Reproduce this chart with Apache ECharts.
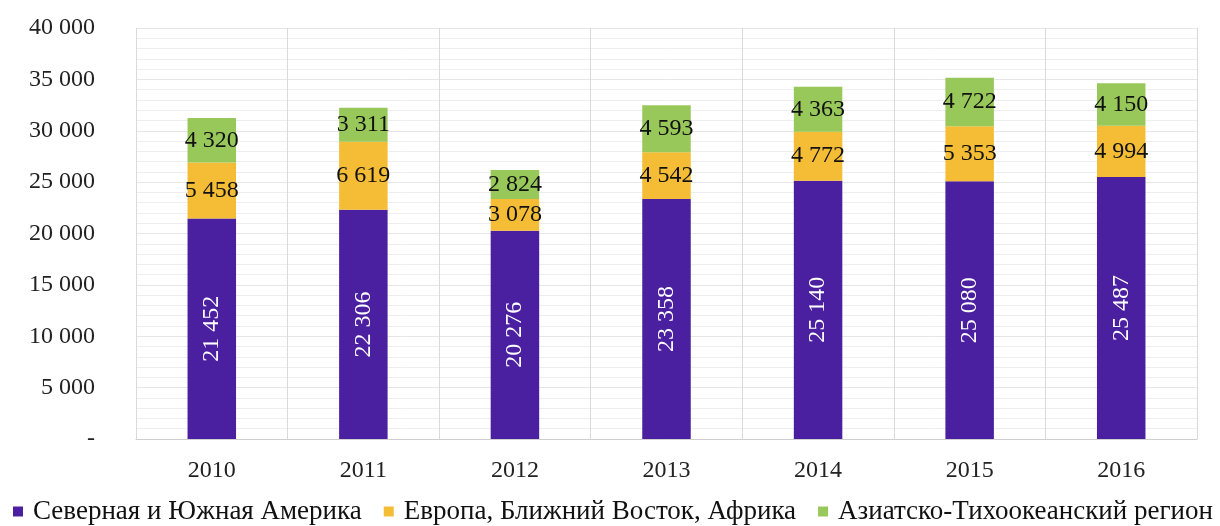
<!DOCTYPE html>
<html><head><meta charset="utf-8">
<script src="https://cdn.jsdelivr.net/npm/echarts@6/dist/echarts.min.js"></script>
<style>html,body{margin:0;padding:0;background:#fff}#c{width:1220px;height:526px}</style>
</head><body><div id="c"></div>
<script>
const categories = ['2010','2011','2012','2013','2014','2015','2016'];
const seriesNames = ['Северная и Южная Америка','Европа, Ближний Восток, Африка','Азиатско-Тихоокеанский регион'];
const americas = [21452, 22306, 20276, 23358, 25140, 25080, 25487];
const emea = [5458, 6619, 3078, 4542, 4772, 5353, 4994];
const apac = [4320, 3311, 2824, 4593, 4363, 4722, 4150];
const colors = ['#4B20A0', '#F5BD35', '#98C85A'];

function fmt(v){
  if (v === 0) return '-';
  return String(Math.round(v)).replace(/\B(?=(\d{3})+(?!\d))/g, ' ');
}
const font = 'Liberation Serif';
const chart = echarts.init(document.getElementById('c'));
const mk = (name, data, color, label) => ({
  name, type: 'bar', stack: 'total', data, barWidth: '32%',
  itemStyle: {color},
  label: Object.assign({show: true, position: 'inside', fontFamily: font, fontSize: 24,
    formatter: p => fmt(p.value)}, label)
});
chart.setOption({
  animation: false,
  textStyle: {fontFamily: font},
  grid: {left: 136, right: 23, top: 28, bottom: 87},
  legend: {
    top: 493, left: 8, itemWidth: 10, itemHeight: 10, itemGap: 22, icon: 'rect',
    textStyle: {fontFamily: font, fontSize: 27, color: '#111', padding: [0,0,0,5]},
    data: seriesNames
  },
  xAxis: {
    type: 'category', data: categories,
    axisLine: {lineStyle: {color: '#cfcfcf'}},
    axisTick: {show: false},
    splitLine: {show: true, lineStyle: {color: '#d9d9d9'}},
    axisLabel: {fontFamily: font, fontSize: 24, color: '#222', margin: 20}
  },
  yAxis: {
    type: 'value', min: 0, max: 40000, interval: 5000,
    axisLine: {show: false}, axisTick: {show: false},
    splitLine: {lineStyle: {color: '#e6e6e6'}},
    minorTick: {show: false, splitNumber: 5},
    minorSplitLine: {show: true, lineStyle: {color: '#eeeeee'}},
    axisLabel: {fontFamily: font, fontSize: 24, color: '#222', margin: 41, formatter: fmt}
  },
  series: [
    mk(seriesNames[0], americas, colors[0], {rotate: 90, color: '#fff'}),
    mk(seriesNames[1], emea, colors[1], {color: '#111'}),
    mk(seriesNames[2], apac, colors[2], {color: '#111'})
  ]
});
</script></body></html>
